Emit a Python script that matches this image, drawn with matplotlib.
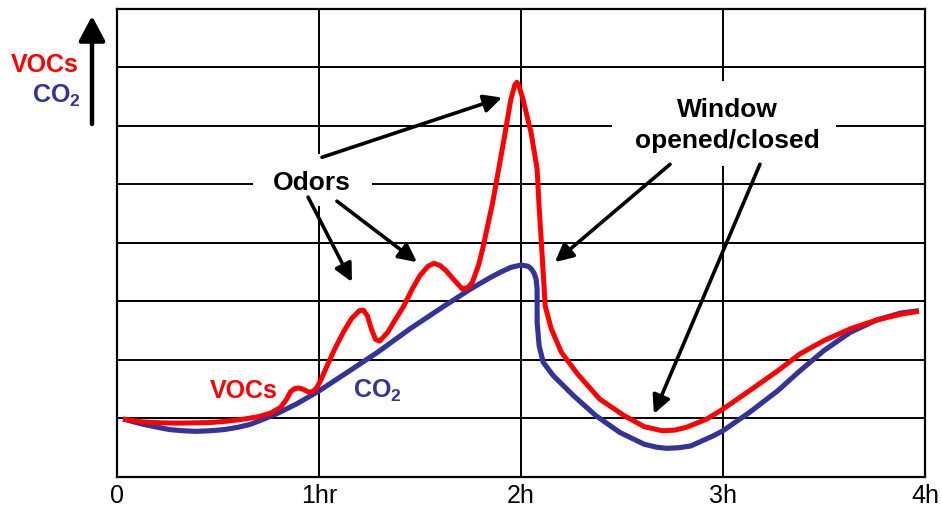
import numpy as np
import matplotlib.pyplot as plt
from matplotlib.patches import Rectangle, FancyArrowPatch

plt.rcParams['font.family'] = ['Liberation Sans', 'DejaVu Sans']
plt.rcParams['mathtext.fontset'] = 'custom'
plt.rcParams['mathtext.rm'] = 'Liberation Sans:bold'
plt.rcParams['mathtext.bf'] = 'Liberation Sans:bold'

# curva VOCs (horas, nivel relativo)
vocHoras = [0.03, 0.13, 0.22, 0.30, 0.46, 0.55, 0.63, 0.70, 0.76, 0.81, 0.84, 0.86, 0.88, 0.90, 0.92,
            0.95, 0.97, 0.99, 1.01, 1.04, 1.08, 1.12, 1.16, 1.20, 1.22, 1.24, 1.26, 1.28, 1.30, 1.34,
            1.38, 1.42, 1.46, 1.50, 1.54, 1.57, 1.60, 1.63, 1.67, 1.71, 1.74, 1.76, 1.79, 1.81, 1.86,
            1.91, 1.95, 1.97, 1.98, 1.99, 2.01, 2.05, 2.08, 2.09, 2.10, 2.11, 2.12, 2.15, 2.20, 2.28,
            2.39, 2.51, 2.61, 2.70, 2.76, 2.82, 2.92, 3.00, 3.13, 3.27, 3.38, 3.50, 3.63, 3.76, 3.88,
            3.97]
vocNivel = [0.99, 0.94, 0.925, 0.92, 0.93, 0.955, 0.99, 1.03, 1.09, 1.19, 1.33, 1.46, 1.51, 1.52, 1.50,
            1.45, 1.46, 1.53, 1.66, 1.90, 2.20, 2.47, 2.70, 2.84, 2.85, 2.75, 2.52, 2.35, 2.32, 2.47,
            2.70, 2.92, 3.20, 3.44, 3.60, 3.65, 3.61, 3.52, 3.36, 3.21, 3.24, 3.33, 3.62, 3.89, 4.69,
            5.65, 6.45, 6.70, 6.74, 6.68, 6.45, 5.88, 5.26, 4.60, 4.06, 3.49, 2.92, 2.53, 2.13, 1.76,
            1.33, 1.05, 0.86, 0.79, 0.80, 0.85, 0.99, 1.16, 1.47, 1.81, 2.10, 2.33, 2.53, 2.68, 2.78,
            2.83]

# curva CO2
co2Horas = [0.03, 0.13, 0.20, 0.26, 0.33, 0.39, 0.46, 0.53, 0.60, 0.66, 0.72, 0.79, 0.89, 1.00, 1.15,
            1.29, 1.45, 1.62, 1.75, 1.85, 1.90, 1.95, 2.00, 2.035, 2.05, 2.065, 2.075, 2.08, 2.08, 2.09,
            2.11, 2.16, 2.26, 2.37, 2.49, 2.61, 2.67, 2.72, 2.78, 2.84, 2.95, 3.00, 3.13, 3.27, 3.38,
            3.50, 3.63, 3.76, 3.88, 3.97]
co2Nivel = [0.99, 0.90, 0.85, 0.81, 0.79, 0.78, 0.79, 0.81, 0.85, 0.90, 0.98, 1.08, 1.25, 1.47, 1.81,
            2.13, 2.53, 2.92, 3.21, 3.41, 3.50, 3.58, 3.62, 3.60, 3.56, 3.48, 3.38, 3.21, 2.64, 2.24,
            1.96, 1.73, 1.39, 1.05, 0.76, 0.56, 0.51, 0.49, 0.50, 0.53, 0.70, 0.79, 1.10, 1.47, 1.81,
            2.16, 2.47, 2.68, 2.80, 2.84]

ticksX = [0, 1, 2, 3, 4]
nomesTicks = ['0', '1hr', '2h', '3h', '4h']

vermelho = '#FF0000'
azul = '#333399'

fig = plt.figure(figsize=(9.42, 5.10), dpi=100)
ax = fig.add_axes([0.1242, 0.0627, 0.8577, 0.9186])
ax.set_xlim(0, 4)
ax.set_ylim(0, 8)
ax.set_xticks(ticksX)
ax.set_xticklabels(nomesTicks, fontsize=18)
ax.set_yticks(range(0, 9))
ax.set_yticklabels([])
ax.tick_params(length=0, pad=4.5)
ax.grid(True, color='black', linewidth=1.4)
ax.set_axisbelow(True)
for sp in ax.spines.values():
    sp.set_linewidth(1.6)

# curvas
ax.plot(co2Horas, co2Nivel, color=azul, linewidth=3.7, solid_joinstyle='round', solid_capstyle='butt', zorder=4)
ax.plot(vocHoras, vocNivel, color=vermelho, linewidth=3.6, solid_joinstyle='round', solid_capstyle='butt', zorder=5)

# caixas brancas atras dos textos
ax.add_patch(Rectangle((0.673, 4.62), 0.589, 0.89, facecolor='white', edgecolor='none', zorder=2))
ax.add_patch(Rectangle((2.45, 5.31), 1.11, 1.45, facecolor='white', edgecolor='none', zorder=2))

ax.text(0.965, 5.03, 'Odors', fontsize=19, fontweight='bold', ha='center', va='center', zorder=6)
ax.text(3.02, 6.28, 'Window', fontsize=19, fontweight='bold', ha='center', va='center', zorder=6)
ax.text(3.02, 5.75, 'opened/closed', fontsize=19, fontweight='bold', ha='center', va='center', zorder=6)

estiloSeta = dict(arrowstyle='-|>,head_length=0.6,head_width=0.3', lw=2.6, color='black',
                  mutation_scale=18, shrinkA=0, shrinkB=0)
setas = [((1.015, 5.46), (1.906, 6.48)),
         ((0.946, 4.78), (1.163, 3.33)),
         ((1.089, 4.71), (1.485, 3.67)),
         ((2.738, 5.34), (2.168, 3.67)),
         ((3.183, 5.34), (2.658, 1.08))]
for inicio, fim in setas:
    ax.annotate('', xy=fim, xytext=inicio, arrowprops=estiloSeta, zorder=7)

# rotulos dentro do grafico
ax.text(0.46, 1.365, 'VOCs', color=vermelho, fontsize=18, fontweight='bold', ha='left', va='baseline', zorder=6)
ax.text(1.167, 1.365, r'CO$_\mathbf{2}$', color=azul, fontsize=18, fontweight='bold', ha='left', va='baseline', zorder=6)

# rotulo do eixo y com seta
fig.text(79 / 942, 438 / 510, 'VOCs', color=vermelho, fontsize=18, fontweight='bold', ha='right', va='baseline')
fig.text(81 / 942, 407 / 510, r'CO$_\mathbf{2}$', color=azul, fontsize=18, fontweight='bold', ha='right', va='baseline')
fig.patches.append(FancyArrowPatch(
    (92 / 942, 385 / 510), (92 / 942, 493 / 510), transform=fig.transFigure,
    arrowstyle='-|>,head_length=0.75,head_width=0.4', mutation_scale=20, lw=3.2, color='black',
    shrinkA=0, shrinkB=0))

plt.savefig('out.png', dpi=100)
